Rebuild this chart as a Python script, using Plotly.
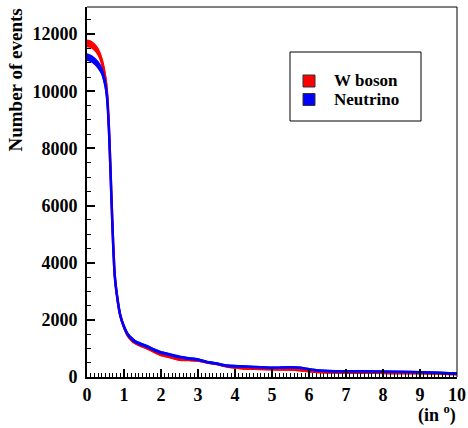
import numpy as np
import plotly.graph_objects as go

# Data
angle = [0.0, 0.1, 0.2, 0.3, 0.4, 0.5, 0.55, 0.6, 0.65, 0.7, 0.75, 0.8, 0.9, 1.0, 1.1, 1.2,
         1.3, 1.4, 1.6, 1.8, 2.0, 2.25, 2.5, 2.75, 3.0, 3.25, 3.5, 3.75, 4.0, 4.25, 4.5,
         5.0, 5.5, 5.75, 6.0, 6.25, 6.5, 7.0, 7.5, 8.0, 8.5, 9.0, 9.5, 10.0]
w_boson = [11680, 11650, 11550, 11380, 11050, 10420, 9800, 8500, 6700, 4900, 3550, 2950, 2150,
           1750, 1460, 1300, 1200, 1130, 1030, 900, 780, 700, 610, 600, 580, 510, 460, 380,
           330, 300, 290, 270, 260, 240, 200, 175, 160, 150, 150, 140, 130, 130, 120, 100]
neutrino = [11200, 11150, 11060, 10920, 10700, 10200, 9650, 8450, 6650, 4850, 3550, 2950, 2150,
            1760, 1500, 1350, 1240, 1180, 1080, 960, 860, 780, 700, 650, 610, 520, 470, 400,
            380, 370, 350, 320, 340, 320, 270, 230, 210, 200, 200, 190, 180, 170, 150, 120]
x_ticks = [0, 1, 2, 3, 4, 5, 6, 7, 8, 9, 10]
y_ticks = [0, 2000, 4000, 6000, 8000, 10000, 12000]
legend_names = ["W boson", "Neutrino"]
colors = ["#ff0000", "#0000ff"]

FONT = "Liberation Serif"
fig = go.Figure()

for vals, col, name in zip([w_boson, neutrino], colors, legend_names):
    v = np.array(vals, dtype=float)
    err = np.sqrt(v)
    xs = list(angle) + list(angle[::-1])
    ys = list(v + err) + list((v - err)[::-1])
    fig.add_trace(go.Scatter(x=xs, y=ys, fill="toself", fillcolor=col, mode="lines",
                             line=dict(color=col, width=1.5, shape="spline", smoothing=0.6),
                             hoverinfo="skip", showlegend=False))
    fig.add_trace(go.Scatter(x=angle, y=vals, mode="lines", name=name,
                             line=dict(color=col, width=2.5, shape="spline", smoothing=0.6),
                             showlegend=False))

L, R, T, B = 87, 11, 7, 51
W, H = 468, 428
pw, ph = W - L - R, H - T - B

def px(x):
    return (x - L) / pw

def py(y):
    return (H - B - y) / ph

fig.update_layout(
    width=W, height=H,
    margin=dict(l=L, r=R, t=T, b=B, autoexpand=False),
    paper_bgcolor="white", plot_bgcolor="white",
    showlegend=False,
    font=dict(family=FONT, color="black"),
    xaxis=dict(range=[0, 10], tickvals=x_ticks, ticktext=[str(t) for t in x_ticks],
               ticks="inside", ticklen=8, tickwidth=1.5, tickcolor="black",
               minor=dict(dtick=0.1, ticks="inside", ticklen=4, tickwidth=1, tickcolor="black"),
               showline=True, linecolor="black", linewidth=2, showgrid=False, zeroline=False,
               automargin=False,
               tickfont=dict(family=FONT, size=18, color="black", weight="bold")),
    yaxis=dict(range=[0, 12950], tickvals=y_ticks, ticktext=[str(t) for t in y_ticks],
               ticks="inside", ticklen=8, tickwidth=1.5, tickcolor="black",
               minor=dict(dtick=500, ticks="inside", ticklen=4, tickwidth=1, tickcolor="black"),
               showline=True, linecolor="black", linewidth=2, showgrid=False, zeroline=False,
               ticklabelstandoff=4, automargin=False,
               tickfont=dict(family=FONT, size=18, color="black", weight="bold")),
)

# frame top/right
fig.add_shape(type="line", xref="paper", yref="paper", x0=0, x1=1, y0=1, y1=1,
              line=dict(color="black", width=1))
fig.add_shape(type="line", xref="paper", yref="paper", x0=1, x1=1, y0=0, y1=1,
              line=dict(color="black", width=1))

# legend box
fig.add_shape(type="rect", xref="paper", yref="paper", x0=px(290), x1=px(421), y0=py(121), y1=py(52),
              line=dict(color="black", width=1), fillcolor="white")
for i, (name, col) in enumerate(zip(legend_names, colors)):
    yc = 81 + i * 18.5
    fig.add_shape(type="rect", xref="paper", yref="paper", x0=px(303), x1=px(315),
                  y0=py(yc + 6), y1=py(yc - 6), line=dict(color="#333333", width=1), fillcolor=col)
    fig.add_annotation(xref="paper", yref="paper", x=px(332), y=py(yc), text=name,
                       showarrow=False, xanchor="left", yanchor="middle",
                       font=dict(family=FONT, size=17, color="black", weight="bold"))

# axis titles
fig.add_annotation(xref="paper", yref="paper", x=px(15), y=py(7), text="Number of events",
                   textangle=-90, showarrow=False, xanchor="center", yanchor="top",
                   font=dict(family=FONT, size=19, color="black", weight="bold"))
fig.add_annotation(xref="paper", yref="paper", x=px(458), y=py(414), text="(in <sup>o</sup>)",
                   showarrow=False, xanchor="right", yanchor="middle",
                   font=dict(family=FONT, size=18, color="black", weight="bold"))

fig.write_html("out.html", post_script="document.body.style.margin='0';",
               config={"displayModeBar": False})
